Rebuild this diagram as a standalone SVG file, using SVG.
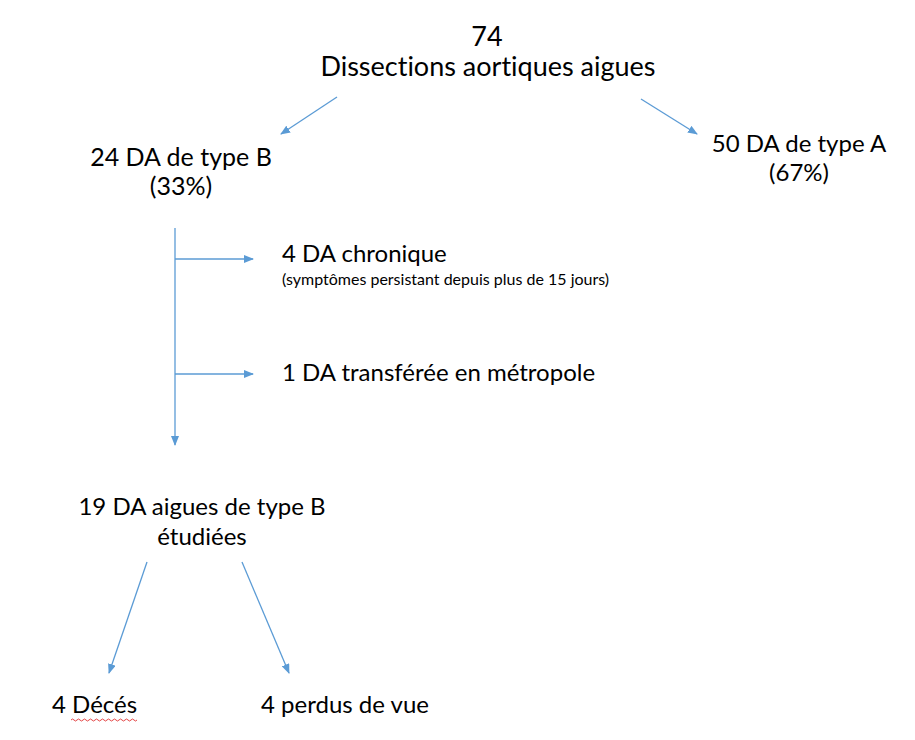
<svg xmlns="http://www.w3.org/2000/svg" width="915" height="740" viewBox="0 0 915 740">
<style>
.t{font-family:Lato,"Open Sans","Liberation Sans",sans-serif;font-size:24px;fill:#000;font-variant-ligatures:none}
.h{font-size:27px}
.b{font-size:25px}
.s{font-family:Lato,"Open Sans","Liberation Sans",sans-serif;font-size:16px;fill:#000;font-variant-ligatures:none}
.c{stroke:#5B9BD5;stroke-width:1.3;fill:none}
</style>
<defs>
<marker id="ah" markerWidth="10" markerHeight="8" refX="9" refY="4" orient="auto" markerUnits="userSpaceOnUse">
<path d="M0,0 L10,4 L0,8 Z" fill="#5B9BD5"/>
</marker>
</defs>
<rect width="915" height="740" fill="#fff"/>
<g id="connectors">
<line class="c" x1="337" y1="97" x2="281" y2="134" marker-end="url(#ah)"/>
<line class="c" x1="641" y1="99" x2="697" y2="134" marker-end="url(#ah)"/>
<line class="c" x1="175" y1="228" x2="175" y2="445" marker-end="url(#ah)"/>
<line class="c" x1="175" y1="259" x2="253" y2="259" marker-end="url(#ah)"/>
<line class="c" x1="175" y1="374" x2="253" y2="374" marker-end="url(#ah)"/>
<line class="c" x1="147" y1="562" x2="109" y2="673" marker-end="url(#ah)"/>
<line class="c" x1="242" y1="562" x2="289" y2="673" marker-end="url(#ah)"/>
</g>
<g id="root">
<text class="t h" x="487" y="46" text-anchor="middle">74</text>
<text class="t h" x="488" y="76" text-anchor="middle">Dissections aortiques aigues</text>
</g>
<g id="typeB">
<text class="t b" x="181" y="166" text-anchor="middle">24 DA de type B</text>
<text class="t b" x="181" y="195" text-anchor="middle">(33%)</text>
</g>
<g id="typeA">
<text class="t" x="799" y="152" text-anchor="middle">50 DA de type A</text>
<text class="t" x="799" y="181" text-anchor="middle">(67%)</text>
</g>
<g id="chronique">
<text class="t" x="282" y="262">4 DA chronique</text>
<text class="s" x="282" y="285">(symptômes persistant depuis plus de 15 jours)</text>
</g>
<g id="transferee">
<text class="t" x="282" y="381">1 DA transférée en métropole</text>
</g>
<g id="etudiees">
<text class="t" x="202" y="515" text-anchor="middle">19 DA aigues de type B</text>
<text class="t" x="202" y="545" text-anchor="middle">étudiées</text>
</g>
<g id="deces">
<text class="t" x="52" y="713">4 Décés</text>
<path d="M71,720 q1.5,-2 3,0 t3,0 t3,0 t3,0 t3,0 t3,0 t3,0 t3,0 t3,0 t3,0 t3,0 t3,0 t3,0 t3,0 t3,0 t3,0 t3,0 t3,0 t3,0 t3,0 t3,0 t3,0" stroke="#e03030" stroke-width="0.9" fill="none"/>
</g>
<g id="perdus">
<text class="t" x="261" y="713">4 perdus de vue</text>
</g>
</svg>
